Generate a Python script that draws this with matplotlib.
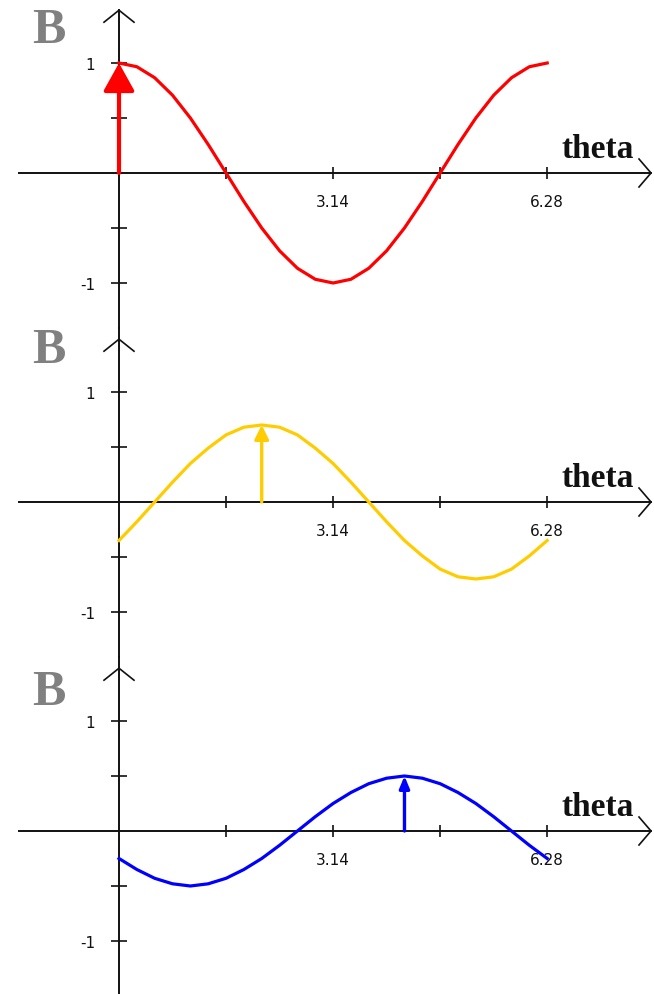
import matplotlib.pyplot as plt
import numpy as np

# samples every pi/12 over one period
theta = [k * np.pi / 12 for k in range(25)]

red_vals = [1.0, 0.966, 0.866, 0.707, 0.5, 0.259, 0.0, -0.259, -0.5, -0.707, -0.866, -0.966,
            -1.0, -0.966, -0.866, -0.707, -0.5, -0.259, 0.0, 0.259, 0.5, 0.707, 0.866, 0.966, 1.0]
yellow_vals = [-0.35, -0.18, 0.0, 0.18, 0.35, 0.49, 0.61, 0.68, 0.70, 0.68, 0.61, 0.49,
               0.35, 0.18, 0.0, -0.18, -0.35, -0.49, -0.61, -0.68, -0.70, -0.68, -0.61, -0.49, -0.35]
blue_vals = [-0.25, -0.35, -0.43, -0.48, -0.5, -0.48, -0.43, -0.35, -0.25, -0.13, 0.0, 0.13,
             0.25, 0.35, 0.43, 0.48, 0.5, 0.48, 0.43, 0.35, 0.25, 0.13, 0.0, -0.13, -0.25]

# phasor arrows: (angle, length)
arrow_pos = [0.0, 2.094, 4.189]
arrow_len = [1.0, 0.70, 0.50]

series = [red_vals, yellow_vals, blue_vals]
colors = ['#ff0000', '#ffcc00', '#0000ff']

x_ticks = [np.pi / 2, np.pi, 3 * np.pi / 2, 2 * np.pi]
x_labels = ['', '3.14', '', '6.28']
y_ticks = [-1, -0.5, 0.5, 1]
y_labels = ['-1', '', '', '1']

W, H = 654, 995
fig = plt.figure(figsize=(W / 100, H / 100), dpi=100)

px_x = 68.15   # pixels per radian
px_y = 110.0   # pixels per unit
origin_x = 119
axis_rows = [174, 503, 832]
panel_edges = [(0, 329), (329, 658), (658, 995)]
b_base = [1.19, 1.27, 1.15]
head_specs = [(0.9, 0.5, 19, 3.0), (0.6, 0.3, 14, 2.4), (0.6, 0.25, 12, 2.4)]

x_lo = -origin_x / px_x
x_hi = (W - origin_x) / px_x
x_start = (19 - origin_x) / px_x
x_tip = (651 - origin_x) / px_x
y_tip = 1.48

for i in range(3):
    top, bot = panel_edges[i]
    row = axis_rows[i]
    ax = fig.add_axes([0, 1 - bot / H, 1, (bot - top) / H])
    y_lo = -(bot - row) / px_y
    y_hi = (row - top) / px_y
    ax.set_xlim(x_lo, x_hi)
    ax.set_ylim(y_lo, y_hi)
    ax.patch.set_alpha(0)

    for s in ['top', 'right']:
        ax.spines[s].set_visible(False)
    ax.spines['left'].set_position('zero')
    ax.spines['bottom'].set_position('zero')
    ax.spines['bottom'].set_bounds(x_start, x_tip)
    ax.spines['left'].set_bounds(y_lo, y_tip if i == 0 else y_hi)
    for s in ['left', 'bottom']:
        ax.spines[s].set_linewidth(1.4)
        ax.spines[s].set_color('#111111')

    ax.set_xticks(x_ticks, x_labels)
    ax.set_yticks(y_ticks, y_labels)
    ax.tick_params(axis='x', direction='inout', length=8, width=1.2, pad=11,
                   labelsize=11, colors='#111111')
    ax.tick_params(axis='y', direction='inout', length=12, width=1.2, pad=11,
                   labelsize=11, colors='#111111')

    # open chevrons at the axis ends
    dx, dy = 12 / px_x, 14 / px_y
    ax.plot([x_tip - dx, x_tip, x_tip - dx], [dy, 0, -dy], color='#111111', lw=1.2)
    dx, dy = 15 / px_x, 12 / px_y
    ax.plot([-dx, 0, dx], [y_tip - dy, y_tip, y_tip - dy], color='#111111', lw=1.2)

    ax.plot(theta, series[i], color=colors[i], lw=2.3, zorder=3)

    hl, hw, ms, lw = head_specs[i]
    ax.annotate('', xy=(arrow_pos[i], arrow_len[i]), xytext=(arrow_pos[i], 0),
                arrowprops=dict(arrowstyle=f'-|>,head_length={hl},head_width={hw}',
                                mutation_scale=ms, lw=lw, color=colors[i],
                                shrinkA=0, shrinkB=0), zorder=4)

    ax.text((561 - origin_x) / px_x, 16 / px_y, 'theta', family='Liberation Serif',
            weight='bold', fontsize=24, va='baseline', ha='left', color='#111111')
    ax.text((32 - origin_x) / px_x, b_base[i], 'B', family='Liberation Serif',
            weight='bold', fontsize=36, va='baseline', ha='left', color='#808080')

fig.savefig('out.png', dpi=100)
